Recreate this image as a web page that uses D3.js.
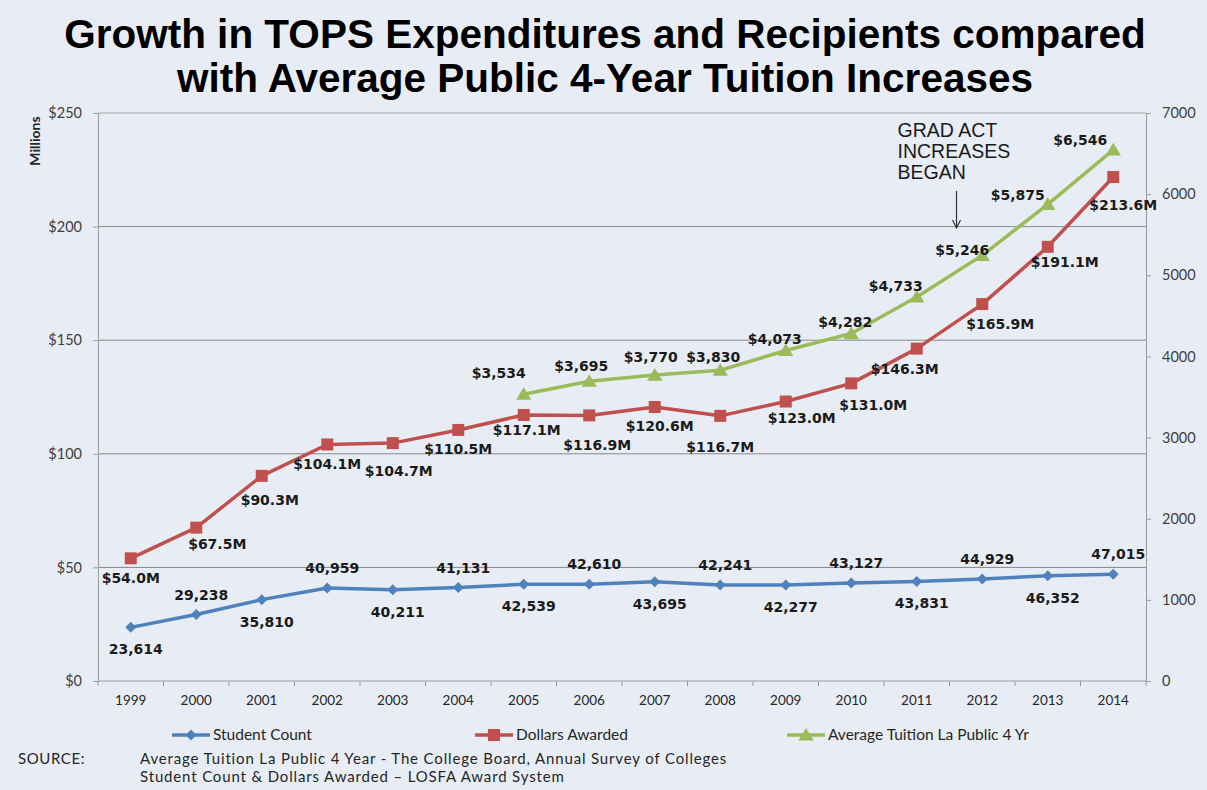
<!DOCTYPE html>
<html>
<head>
<meta charset="utf-8">
<script src="https://cdn.jsdelivr.net/npm/d3@7"></script>
<style>
  html, body { margin: 0; padding: 0; background: #e8edf5; }
  #chart { width: 1207px; height: 790px; }
</style>
</head>
<body>
<div id="chart"></div>
<script>
// data
const years = ['1999','2000','2001','2002','2003','2004','2005','2006','2007','2008','2009','2010','2011','2012','2013','2014'];
// student count (plotted in thousands on the left axis)
const studentCount = [23614, 29238, 35810, 40959, 40211, 41131, 42539, 42610, 43695, 42241, 42277, 43127, 43831, 44929, 46352, 47015];
// dollars awarded, millions (2014 point sits higher than its label in the original)
const dollarsAwarded = [54.0, 67.5, 90.3, 104.1, 104.7, 110.5, 117.1, 116.9, 120.6, 116.7, 123.0, 131.0, 146.3, 165.9, 191.1, 221.8];
const dollarsLabels = ['$54.0M','$67.5M','$90.3M','$104.1M','$104.7M','$110.5M','$117.1M','$116.9M','$120.6M','$116.7M','$123.0M','$131.0M','$146.3M','$165.9M','$191.1M','$213.6M'];
// average tuition, right axis (starts 2005)
const tuitionYears = ['2005','2006','2007','2008','2009','2010','2011','2012','2013','2014'];
const tuition = [3534, 3695, 3770, 3830, 4073, 4282, 4733, 5246, 5875, 6546];

const leftTicks = [0, 50, 100, 150, 200, 250];
const rightTicks = [0, 1000, 2000, 3000, 4000, 5000, 6000, 7000];

const titleLines = ['Growth in TOPS Expenditures and Recipients compared', 'with Average Public 4-Year Tuition Increases'];
const legendNames = ['Student Count', 'Dollars Awarded', 'Average Tuition La Public 4 Yr'];
const sourceLines = ['Average Tuition La Public 4 Year - The College Board, Annual Survey of Colleges', 'Student Count & Dollars Awarded \u2013 LOSFA Award System'];
const noteLines = ['GRAD ACT', 'INCREASES', 'BEGAN'];

// label nudges (label placement only)
const dollarLabelOff = [[0,20],[21,16],[8,24],[0,20],[6,28],[0,19],[3,15],[8,30],[5,19],[0,31],[16,16],[22,22],[-12,20],[18,20],[17,15],[10,28]];
const tuitionLabelOff = [[-25,-21],[-8,-15],[-4,-18],[-7,-13],[-11,-12],[-6,-12],[-21,-11],[-20,-5],[-30,-9],[-33,-10]];

const colors = { student: '#4f81bd', dollars: '#c0504d', tuition: '#9bbb59' };

class TopsChart {
    constructor(containerId) {
        this.container = d3.select(`#${containerId}`);
        this.width = 1207;
        this.height = 790;
        this.margin = { top: 113, right: 61, bottom: 109, left: 98 };
    }

    render() {
        const { width, height, margin } = this;
        const svg = this.container.append('svg')
            .attr('width', width)
            .attr('height', height)
            .style('background', '#e8edf5');

        const x = d3.scaleBand().domain(years).range([margin.left, width - margin.right]).padding(0);
        const cx = d => x(d) + x.bandwidth() / 2;
        const yL = d3.scaleLinear().domain([0, 250]).range([height - margin.bottom, margin.top]);
        const yR = d3.scaleLinear().domain([0, 7000]).range([height - margin.bottom, margin.top]);

        // title
        svg.append('g').selectAll('text')
            .data(titleLines)
            .enter().append('text')
            .attr('x', 605)
            .attr('y', (d, i) => 48 + i * 44)
            .attr('text-anchor', 'middle')
            .attr('font-family', 'Liberation Sans, Arial, sans-serif')
            .attr('font-weight', 'bold')
            .attr('font-size', 40.5)
            .attr('fill', '#000')
            .text(d => d);

        // gridlines
        svg.append('g').selectAll('line')
            .data(leftTicks.filter(d => d > 0))
            .enter().append('line')
            .attr('x1', margin.left).attr('x2', width - margin.right)
            .attr('y1', d => yL(d)).attr('y2', d => yL(d))
            .attr('stroke', d => d === 250 ? '#a6a6a6' : '#868686')
            .attr('stroke-width', 1);

        // left axis
        const leftAxis = d3.axisLeft(yL).tickValues(leftTicks).tickSize(5).tickPadding(11).tickFormat(d => '$' + d);
        const gl = svg.append('g').attr('transform', `translate(${margin.left},0)`).call(leftAxis);
        gl.select('.domain').attr('stroke', '#9a9a9a');
        gl.selectAll('.tick line').attr('stroke', '#9a9a9a');
        gl.selectAll('text').attr('font-family', 'Lato, sans-serif').attr('font-size', 14.5).attr('fill', '#404040');

        // right axis
        const rightAxis = d3.axisRight(yR).tickValues(rightTicks).tickSize(5).tickPadding(11).tickFormat(d3.format('d'));
        const gr = svg.append('g').attr('transform', `translate(${width - margin.right},0)`).call(rightAxis);
        gr.select('.domain').attr('stroke', '#9a9a9a');
        gr.selectAll('.tick line').attr('stroke', '#9a9a9a');
        gr.selectAll('text').attr('font-family', 'Lato, sans-serif').attr('font-size', 14.5).attr('fill', '#404040');

        // bottom axis, ticks at band edges
        const gx = svg.append('g').attr('transform', `translate(0,${height - margin.bottom})`);
        gx.append('line')
            .attr('x1', margin.left).attr('x2', width - margin.right)
            .attr('stroke', '#9a9a9a');
        gx.selectAll('.xtick')
            .data(years)
            .enter().append('line')
            .attr('class', 'xtick')
            .attr('x1', d => x(d)).attr('x2', d => x(d))
            .attr('y1', 0).attr('y2', 5)
            .attr('stroke', '#9a9a9a');
        gx.append('line')
            .attr('x1', width - margin.right).attr('x2', width - margin.right)
            .attr('y1', 0).attr('y2', 5).attr('stroke', '#9a9a9a');
        gx.selectAll('.xlabel')
            .data(years)
            .enter().append('text')
            .attr('class', 'xlabel')
            .attr('x', d => cx(d))
            .attr('y', 24)
            .attr('text-anchor', 'middle')
            .attr('font-family', 'Lato, sans-serif')
            .attr('font-size', 13.5)
            .attr('fill', '#262626')
            .text(d => d);

        // Millions label
        svg.append('text')
            .attr('transform', `translate(40,141) rotate(-90)`)
            .attr('text-anchor', 'middle')
            .attr('font-family', 'Lato, sans-serif')
            .attr('font-size', 14)
            .attr('font-weight', 'bold')
            .attr('fill', '#262626')
            .text('Millions');

        const line = d3.line();

        // symbols
        const diamond = r => `M0,${-r}L${r},0L0,${r}L${-r},0Z`;
        const square = r => `M${-r},${-r}H${r}V${r}H${-r}Z`;
        const triangle = r => `M0,${-r}L${r * 1.1},${r * 0.8}L${-r * 1.1},${r * 0.8}Z`;

        const studentPts = years.map((d, i) => [cx(d), yL(studentCount[i] / 1000)]);
        const dollarPts = years.map((d, i) => [cx(d), yL(dollarsAwarded[i])]);
        const tuitionPts = tuitionYears.map((d, i) => [cx(d), yR(tuition[i])]);

        const series = [
            { pts: studentPts, color: colors.student, sym: diamond(5.5) },
            { pts: dollarPts, color: colors.dollars, sym: square(6) },
            { pts: tuitionPts, color: colors.tuition, sym: triangle(7) }
        ];

        series.forEach(s => {
            svg.append('path')
                .attr('d', line(s.pts))
                .attr('fill', 'none')
                .attr('stroke', s.color)
                .attr('stroke-width', 3.5)
                .attr('stroke-linejoin', 'round');
            svg.append('g').selectAll('path')
                .data(s.pts)
                .enter().append('path')
                .attr('d', s.sym)
                .attr('transform', d => `translate(${d[0]},${d[1]})`)
                .attr('fill', s.color);
        });

        // data labels
        const labelFont = g => g
            .attr('text-anchor', 'middle')
            .attr('dominant-baseline', 'central')
            .attr('font-family', 'DejaVu Sans, Verdana, sans-serif')
            .attr('font-weight', 'bold')
            .attr('font-size', 14)
            .attr('fill', '#1a1a1a');

        svg.append('g').selectAll('text')
            .data(studentCount)
            .enter().append('text')
            .attr('x', (d, i) => studentPts[i][0] + 5)
            .attr('y', (d, i) => studentPts[i][1] + (i % 2 === 0 ? 22 : -20))
            .call(labelFont)
            .text(d => d3.format(',')(d));

        svg.append('g').selectAll('text')
            .data(dollarsLabels)
            .enter().append('text')
            .attr('x', (d, i) => dollarPts[i][0] + dollarLabelOff[i][0])
            .attr('y', (d, i) => dollarPts[i][1] + dollarLabelOff[i][1])
            .call(labelFont)
            .text(d => d);

        svg.append('g').selectAll('text')
            .data(tuition)
            .enter().append('text')
            .attr('x', (d, i) => tuitionPts[i][0] + tuitionLabelOff[i][0])
            .attr('y', (d, i) => tuitionPts[i][1] + tuitionLabelOff[i][1])
            .call(labelFont)
            .text(d => '$' + d3.format(',')(d));

        // annotation
        const ax = x('2012') + 7;
        svg.append('g').selectAll('text')
            .data(noteLines)
            .enter().append('text')
            .attr('x', ax - 59)
            .attr('y', (d, i) => 137 + i * 21)
            .attr('font-family', 'Liberation Sans, Arial, sans-serif')
            .attr('font-size', 19.5)
            .attr('fill', '#1a1a1a')
            .text(d => d);
        svg.append('line')
            .attr('x1', ax).attr('x2', ax)
            .attr('y1', 191).attr('y2', 228)
            .attr('stroke', '#333').attr('stroke-width', 1.2);
        svg.append('path')
            .attr('d', `M${ax - 4},${220}L${ax},${228}L${ax + 4},${220}`)
            .attr('fill', 'none').attr('stroke', '#333').attr('stroke-width', 1.2);

        // legend
        const legendX = [172, 475, 787];
        const lg = svg.append('g').attr('transform', 'translate(0,735)');
        series.forEach((s, i) => {
            const g = lg.append('g').attr('transform', `translate(${legendX[i]},0)`);
            g.append('line').attr('x1', 0).attr('x2', 38).attr('stroke', s.color).attr('stroke-width', 3.5);
            g.append('path').attr('d', s.sym).attr('transform', 'translate(19,0)').attr('fill', s.color);
            g.append('text')
                .attr('x', 41).attr('y', 5)
                .attr('font-family', 'Lato, sans-serif')
                .attr('font-size', 15.5)
                .attr('fill', '#262626')
                .text(legendNames[i]);
        });

        // source
        svg.append('text')
            .attr('x', 18).attr('y', 764)
            .attr('font-family', 'Lato, sans-serif')
            .attr('font-size', 15)
            .attr('letter-spacing', 0.6)
            .attr('fill', '#262626')
            .text('SOURCE:');
        svg.append('g').selectAll('text')
            .data(sourceLines)
            .enter().append('text')
            .attr('x', 140)
            .attr('y', (d, i) => 764 + i * 18)
            .attr('font-family', 'Lato, sans-serif')
            .attr('font-size', 15)
            .attr('letter-spacing', 0.85)
            .attr('fill', '#262626')
            .text(d => d);
    }
}

const chart = new TopsChart('chart');
chart.render();
</script>
</body>
</html>
